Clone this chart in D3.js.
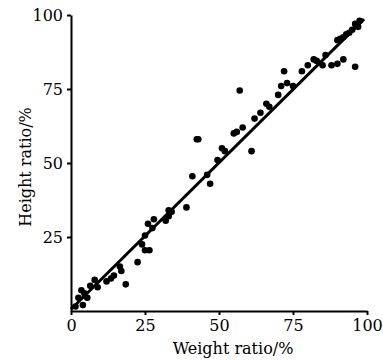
<!DOCTYPE html>
<html><head><meta charset="utf-8">
<script src="https://cdn.jsdelivr.net/npm/d3@7"></script>
<style>body{margin:0;background:#fff}svg{display:block}</style>
</head><body>
<script>
const xTicks = [0, 25, 50, 75, 100];
const yTicks = [25, 50, 75, 100];
const weightRatio = [1.5,2.5,3.5,4,4.5,5.5,6.5,8,9,12,13.5,14.5,17,18.5,16.5,22.5,24,25,26.5,25,26,28,27.5,32,33,34,33,39,41,43,42.5,46,47,49.5,51,52,55,56,57,58,61,62,64,66,67,70,71,72,73,75,78,80,82,83,85,86,88,90,91,92,90,92,93,94,95,96,96,97,97.5];
const heightRatio = [1.5,4.5,7,2,6,4.5,8.5,10.5,8,10,11,12,13.5,9,15,16.5,22.5,20.5,20.5,25.5,29.5,31,28,30.5,32,33.5,34,35,45.5,58,58,46,43,51,55,54,60,60.5,74.5,62,54,65,67,70,69,73,76,81,77,76,81,83,85,84.5,83,86.5,83,91.5,92,92.5,83.5,85,93.5,94,95,82.5,97,96,98];
const fitX = [0, 99];
const fitY = [0.6, 98.6];

const W = 383, H = 360;
const m = {left: 71, right: 16, top: 15, bottom: 49};
const svg = d3.select("body").append("svg").attr("width", W).attr("height", H);
const x = d3.scaleLinear().domain([0, 100]).range([m.left, W - m.right]);
const y = d3.scaleLinear().domain([0, 100]).range([H - m.bottom, m.top]);
const font = "DejaVu Serif";

const xa = svg.append("g").attr("transform", `translate(0,${H - m.bottom})`)
  .call(d3.axisBottom(x).tickValues(xTicks).tickSize(4).tickPadding(5).tickSizeOuter(0));
const ya = svg.append("g").attr("transform", `translate(${m.left},0)`)
  .call(d3.axisLeft(y).tickValues(yTicks).tickSize(4).tickPadding(4).tickSizeOuter(0));
[xa, ya].forEach(a => {
  a.select(".domain").attr("stroke", "#000").attr("stroke-width", 2);
  a.selectAll(".tick line").attr("stroke", "#000").attr("stroke-width", 2);
  a.selectAll("text").attr("font-family", font).attr("font-size", 16).attr("fill", "#000");
});

svg.append("g").selectAll("circle").data(weightRatio).join("circle")
  .attr("cx", d => x(d)).attr("cy", (d, i) => y(heightRatio[i])).attr("r", 3.3).attr("fill", "#000");

svg.append("path").datum(fitX.map((d, i) => [d, fitY[i]]))
  .attr("d", d3.line().x(d => x(d[0])).y(d => y(d[1])))
  .attr("stroke", "#000").attr("stroke-width", 3).attr("fill", "none");

svg.append("text").attr("x", 233).attr("y", 354).attr("text-anchor", "middle")
  .attr("font-family", font).attr("font-size", 16).text("Weight ratio/%");
svg.append("text").attr("transform", "translate(31,167) rotate(-90)").attr("text-anchor", "middle")
  .attr("font-family", font).attr("font-size", 16).text("Height ratio/%");
</script>
</body></html>
